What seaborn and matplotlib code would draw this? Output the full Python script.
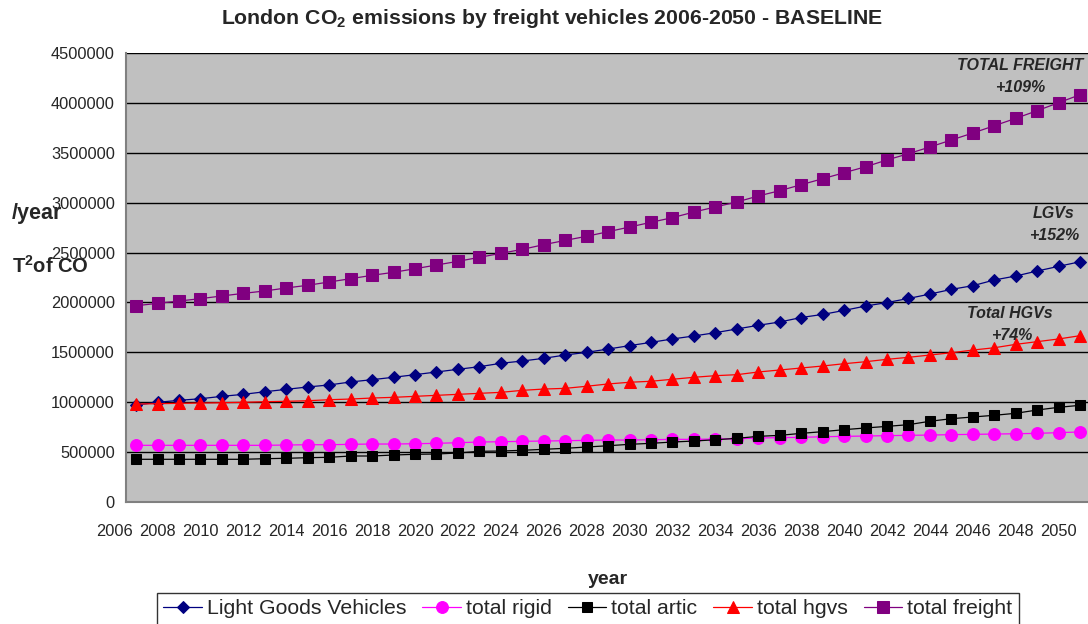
import matplotlib
matplotlib.use("Agg")
import matplotlib.pyplot as plt
import matplotlib.transforms as mtransforms
import seaborn as sns
import pandas as pd

# ---------------- data ----------------
years = list(range(2007, 2052))

lgv = [0.972, 0.999, 1.019, 1.035, 1.059, 1.079, 1.105, 1.129, 1.153, 1.173,
       1.203, 1.226, 1.250, 1.276, 1.303, 1.330, 1.356, 1.390, 1.413, 1.440,
       1.473, 1.500, 1.533, 1.567, 1.600, 1.634, 1.664, 1.697, 1.734, 1.771,
       1.804, 1.849, 1.880, 1.920, 1.964, 1.999, 2.040, 2.084, 2.131, 2.168,
       2.225, 2.265, 2.315, 2.362, 2.408]
rigid = [0.568, 0.568, 0.568, 0.568, 0.568, 0.568, 0.568, 0.571, 0.574, 0.574,
         0.578, 0.581, 0.581, 0.584, 0.588, 0.594, 0.601, 0.604, 0.608, 0.611,
         0.614, 0.618, 0.621, 0.621, 0.624, 0.628, 0.628, 0.631, 0.634, 0.641,
         0.645, 0.648, 0.654, 0.658, 0.661, 0.665, 0.668, 0.671, 0.675, 0.678,
         0.681, 0.684, 0.688, 0.695, 0.702]
artic = [0.428, 0.428, 0.428, 0.428, 0.428, 0.428, 0.434, 0.438, 0.444, 0.448,
         0.461, 0.461, 0.471, 0.478, 0.481, 0.491, 0.508, 0.511, 0.518, 0.528,
         0.538, 0.551, 0.564, 0.578, 0.588, 0.601, 0.611, 0.624, 0.638, 0.658,
         0.668, 0.688, 0.705, 0.725, 0.742, 0.758, 0.775, 0.809, 0.835, 0.852,
         0.869, 0.889, 0.922, 0.949, 0.969]
hgvs = [0.982, 0.985, 0.989, 0.992, 0.995, 0.999, 1.005, 1.009, 1.015, 1.025,
        1.032, 1.042, 1.049, 1.059, 1.069, 1.079, 1.089, 1.099, 1.119, 1.132,
        1.139, 1.160, 1.183, 1.200, 1.210, 1.230, 1.250, 1.266, 1.276, 1.303,
        1.323, 1.343, 1.363, 1.386, 1.406, 1.430, 1.450, 1.473, 1.496, 1.523,
        1.546, 1.580, 1.607, 1.634, 1.667]
freight = [1.967, 1.991, 2.014, 2.038, 2.065, 2.091, 2.115, 2.145, 2.172, 2.205,
           2.238, 2.272, 2.302, 2.338, 2.375, 2.412, 2.452, 2.492, 2.532, 2.579,
           2.622, 2.663, 2.709, 2.756, 2.803, 2.850, 2.906, 2.957, 3.007, 3.067,
           3.120, 3.180, 3.240, 3.300, 3.360, 3.428, 3.491, 3.558, 3.628, 3.698,
           3.771, 3.845, 3.922, 4.002, 4.082]

series_names = ["Light Goods Vehicles", "total rigid", "total artic", "total hgvs", "total freight"]
series_values = [lgv, rigid, artic, hgvs, freight]
series_colors = ["#000080", "#FF00FF", "#000000", "#FF0000", "#800080"]
series_markers = ["D", "o", "s", "^", "s"]
series_msizes = [6.5, 8.5, 7.5, 8.5, 8]

y_ticks = [0, 500000, 1000000, 1500000, 2000000, 2500000, 3000000, 3500000, 4000000, 4500000]
x_labels = list(range(2006, 2051, 2))

annotations = [("TOTAL FREIGHT", 1083, 66, "right"), ("+109%", 1020, 88, "center"),
               ("LGVs", 1054, 214, "center"), ("+152%", 1054, 236, "center"),
               ("Total HGVs", 1010, 313, "center"), ("+74%", 1012, 335, "center")]

# ---------------- styling ----------------
sns.set_style("white")
plt.rcParams["font.family"] = ["Liberation Sans", "DejaVu Sans"]
plt.rcParams["mathtext.fontset"] = "custom"
plt.rcParams["mathtext.rm"] = "Liberation Sans"
plt.rcParams["mathtext.bf"] = "Liberation Sans:bold"
plt.rcParams["mathtext.it"] = "Liberation Sans:italic"

W, H = 1088, 624
fig = plt.figure(figsize=(W / 100, H / 100), dpi=100)
fig.patch.set_facecolor("white")

ax_left, ax_right, ax_top, ax_bottom = 126, 1091.5, 53, 502
ax = fig.add_axes([ax_left / W, 1 - ax_bottom / H, (ax_right - ax_left) / W, (ax_bottom - ax_top) / H])
ax.set_facecolor("#C0C0C0")

rows = []
for name, vals in zip(series_names, series_values):
    for yr, v in zip(years, vals):
        rows.append({"year": yr, "value": v * 1e6, "series": name})
df = pd.DataFrame(rows)

for name, col, mk, ms in zip(series_names, series_colors, series_markers, series_msizes):
    sub = df[df["series"] == name]
    sns.lineplot(data=sub, x="year", y="value", ax=ax, color=col, marker=mk,
                 markersize=ms, markeredgecolor=col, linewidth=0.9, label=name,
                 legend=False, zorder=3)

ax.set_xlim(2006.53, 2051.5)
ax.set_ylim(0, 4500000)
ax.set_yticks(y_ticks)
ax.set_yticklabels([str(v) for v in y_ticks], fontsize=11.8)
ax.yaxis.grid(True, color="#000000", linewidth=1.0, zorder=1)
ax.xaxis.grid(False)
ax.set_axisbelow(True)

# x tick marks between categories
ax.set_xticks([2006.53 + j for j in range(0, 46)])
ax.set_xticklabels([])
ax.tick_params(axis="x", direction="out", length=5, width=0.8, color="#000000")
ax.tick_params(axis="y", direction="out", length=5, width=0.8, color="#000000", pad=3)
for s in ["left", "bottom"]:
    ax.spines[s].set_color("#808080")
    ax.spines[s].set_linewidth(1.5)
ax.spines["top"].set_visible(False)
ax.spines["right"].set_visible(False)
ax.set_xlabel("")
ax.set_ylabel("")

lab_tr = mtransforms.offset_copy(ax.get_xaxis_transform(), fig=fig, y=-29, units="dots")
for yr in x_labels:
    ax.text(yr, 0, str(yr), transform=lab_tr, ha="center", va="center", fontsize=11.8, clip_on=False)

for txt, px, py, ha in annotations:
    fig.text(px / W, 1 - py / H, txt, ha=ha, va="center", fontsize=11.5,
             fontweight="bold", fontstyle="italic")

fig.text(552 / W, 1 - 19 / H, r"London CO$_\mathbf{2}$ emissions by freight vehicles 2006-2050 - BASELINE",
         ha="center", va="center", fontsize=15.3, fontweight="bold")

fig.text(12 / W, 1 - 214 / H, "/year", ha="left", va="center", fontsize=15.5, fontweight="bold")
fig.text(12 / W, 1 - 266 / H, r"T$^\mathbf{2}$of CO", ha="left", va="center", fontsize=14.5, fontweight="bold")

fig.text(608 / W, 1 - 580 / H, "year", ha="center", va="center", fontsize=14, fontweight="bold")

handles, labels = ax.get_legend_handles_labels()
leg = fig.legend(handles, labels, loc="upper left", bbox_to_anchor=(157 / W, 1 - 593 / H),
                 ncol=5, fontsize=15.3, frameon=True, fancybox=False, edgecolor="#000000",
                 handlelength=1.8, handletextpad=0.25, columnspacing=0.75, borderpad=0.3,
                 borderaxespad=0)
leg.get_frame().set_linewidth(1.0)

fig.savefig("out.png", dpi=100)
